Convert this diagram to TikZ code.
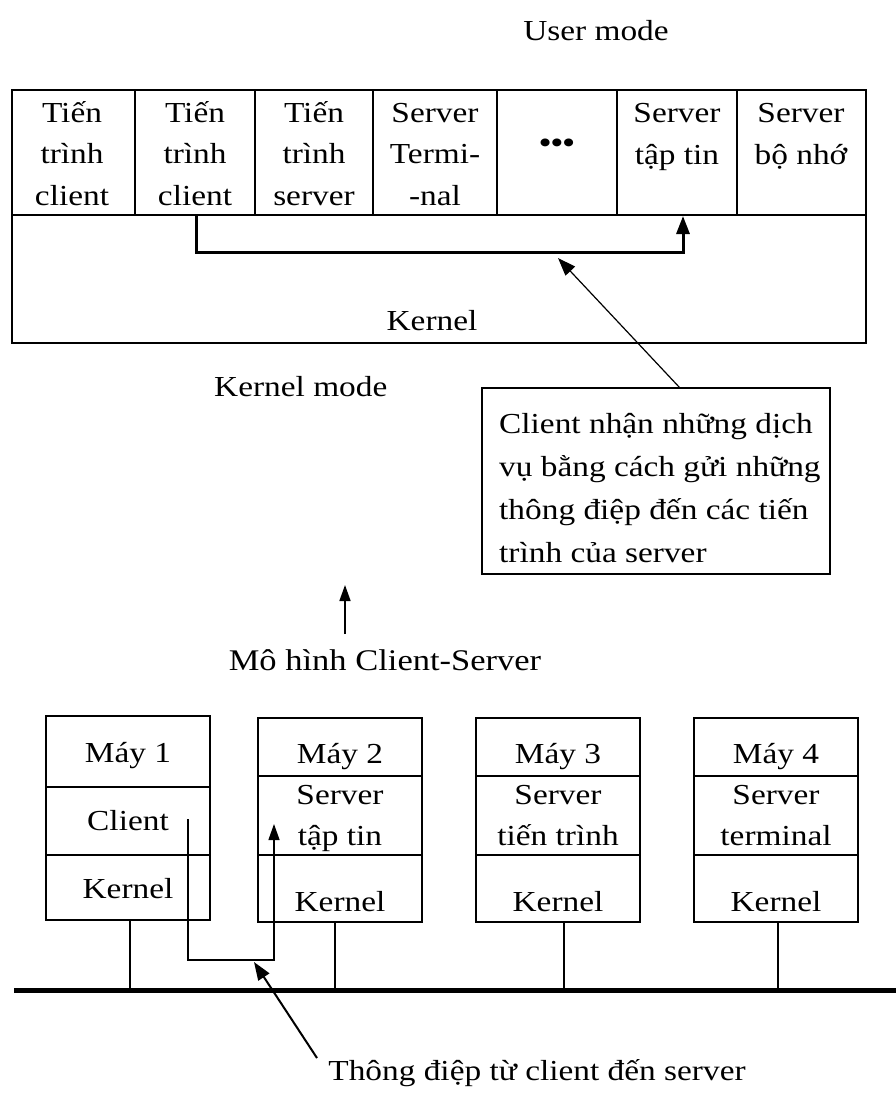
\documentclass[tikz,border=0pt]{standalone}
\usepackage{fontspec}
\setmainfont{Liberation Serif}[FakeStretch=1.15]
\usetikzlibrary{arrows.meta}
\begin{document}
\begin{tikzpicture}[x=1pt,y=-1pt,
  every node/.style={font=\fontsize{29}{41.5}\selectfont, inner sep=0pt},
  cell/.style={draw, line width=1.3pt},
  ml/.style={align=center, anchor=base},
  bigtip/.style={-{Triangle[length=18pt,width=13pt]}},
  thick1/.style={line width=3pt},
  thin1/.style={line width=1.2pt},
]
\useasboundingbox (0,0) rectangle (896,1093);
% ---------- top block ----------
\draw[cell] (12,90) rectangle (866,343);
\foreach \x in {135,255,373,497,617,737} \draw[cell] (\x,90) -- (\x,215);
\draw[cell] (12,215) -- (866,215);
\node[ml] (t1) at (72,205) {Tiến\\trình\\client};
\node[ml] (t2) at (195,205) {Tiến\\trình\\client};
\node[ml] (t3) at (314,205) {Tiến\\trình\\server};
\node[ml] (t4) at (435,205) {Server\\Termi-\\-nal};
\node (t5) at (557,146) {\textbf{•••}};
\node[ml] (t6) at (677,164) {Server\\tập tin};
\node[ml] (t7) at (801,164) {Server\\bộ nhớ};
\node[anchor=base] (kern) at (432,330) {Kernel};
\coordinate (a0) at (196,215);
\coordinate (a1) at (196,252);
\coordinate (a2) at (683,252);
\coordinate (a3) at (683,216);
\draw[thick1, bigtip] (a0) -- (a1) -- (a2) -- (a3);
\node[anchor=base] (um) at (596,40) {User mode};
\node[anchor=base west] (km) at (214,396) {Kernel mode};
% ---------- callout ----------
\draw[cell] (482,388) rectangle (830,574);
\node[align=left, anchor=base west, font=\fontsize{29}{43}\selectfont] (call) at (499,562) {Client nhận những dịch\\vụ bằng cách gửi những\\thông điệp đến các tiến\\trình của server};
\coordinate (cstart) at (680,388);
\coordinate (ctip) at (558,258);
\draw[thin1, bigtip] (cstart) -- (ctip);
% ---------- model arrow ----------
\node[anchor=base, font=\fontsize{30}{33}\selectfont] (mh) at (385,670) {Mô hình Client-Server};
\coordinate (mtip) at (345,585);
\draw[line width=1.6pt, -{Triangle[length=16pt,width=11pt]}] (345,634) -- (mtip);
% ---------- machines ----------
\draw[cell] (46,716) rectangle (210,920);
\draw[cell] (46,787) -- (210,787);
\draw[cell] (46,855) -- (210,855);
\node[anchor=base] (m1) at (128,762) {Máy 1};
\node[anchor=base] (c1) at (128,830) {Client};
\node[anchor=base] (k1) at (128,898) {Kernel};
\foreach \xa/\n/\top/\bot in {258/2/Server/tập tin, 476/3/Server/tiến trình, 694/4/Server/terminal}{
  \draw[cell] (\xa,718) rectangle (\xa+164,922);
  \draw[cell] (\xa,776) -- (\xa+164,776);
  \draw[cell] (\xa,855) -- (\xa+164,855);
  \node[anchor=base] at (\xa+82,763) {Máy \n};
  \node[anchor=base] at (\xa+82,804) {\top};
  \node[anchor=base] at (\xa+82,845) {\bot};
  \node[anchor=base] at (\xa+82,911) {Kernel};
}
% bus
\coordinate (busL) at (14,990);
\coordinate (busR) at (896,990);
\draw[line width=5pt] (busL) -- (busR);
\foreach \x/\yb in {130/920, 335/922, 564/922, 778/922} \draw[thin1] (\x,\yb) -- (\x,990);
% message path
\coordinate (p0) at (188,819);
\coordinate (p1) at (188,960);
\coordinate (p2) at (274,960);
\coordinate (p3) at (274,824);
\draw[line width=1.3pt, -{Triangle[length=16pt,width=11pt]}] (p0) -- (p1) -- (p2) -- (p3);
\node[anchor=base] (msg) at (537,1080) {Thông điệp từ client đến server};
\coordinate (btip) at (254,962);
\draw[line width=2pt, bigtip] (317,1058) -- (btip);
\end{tikzpicture}
\end{document}
